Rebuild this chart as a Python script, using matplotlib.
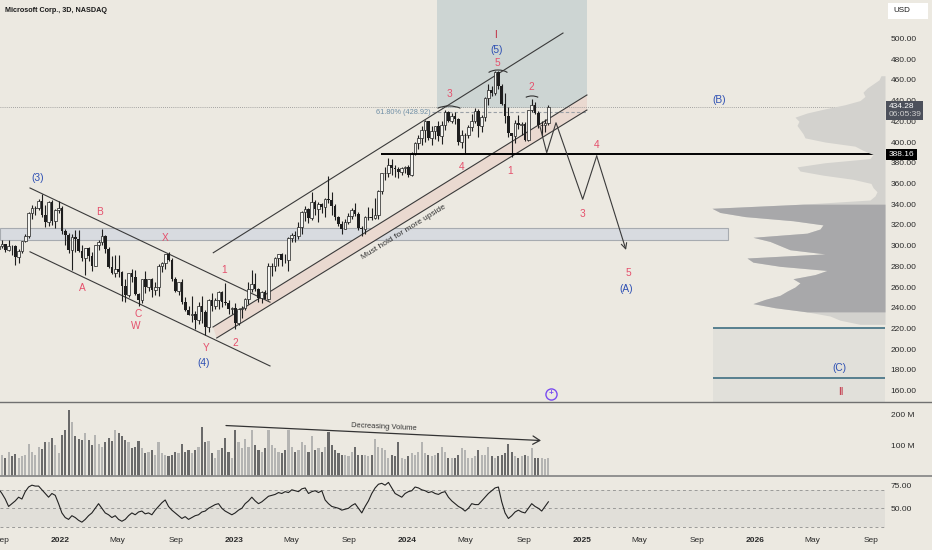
import numpy as np
import pandas as pd
import matplotlib
matplotlib.use("Agg")
import matplotlib.pyplot as plt
from matplotlib.patches import Rectangle, Arc, Polygon
from matplotlib.lines import Line2D

plt.rcParams["font.family"] = ["Liberation Sans", "DejaVu Sans"]

# ---- MSFT bars (one bar per week, Fridays from 2021-08-27) ----
first_open = 297.0
close = [
    299.7, 301.1, 295.7, 299.9, 299.4, 289.1, 294.9, 304.2, 309.2, 331.6, 336.1, 336.7, 343.1, 329.7, 323.0, 342.5, 323.8, 334.7, 336.3,
    314.0, 310.2, 296.0, 308.3, 305.9, 295.0, 287.9, 297.3, 289.9, 280.1, 300.4, 303.7, 309.4, 297.0, 279.8, 274.0, 277.5, 274.7, 261.1, 252.6,
    273.2, 270.0, 253.0, 247.7, 267.7, 259.6, 267.7, 256.7, 260.4, 280.7, 282.9, 291.9, 286.2, 268.1, 256.1, 264.5, 245.4, 237.9, 232.9, 234.2,
    228.6, 242.1, 235.9, 221.4, 247.1, 241.2, 247.6, 255.0, 245.4, 244.7, 238.7, 239.8,
    224.9, 239.2, 240.2, 248.2, 258.4, 263.1, 258.1, 249.2, 255.3, 248.6, 280.0, 280.6, 288.3, 291.6, 286.1, 285.8, 307.3, 310.7, 309.0, 318.3,
    332.9, 335.4, 326.8, 342.3, 335.0, 340.5, 337.2, 345.2, 343.8, 338.4, 327.8, 321.0, 316.5, 323.0, 328.7, 334.3, 330.2, 317.0, 315.8, 327.3,
    327.7, 326.7, 329.8, 352.8, 369.7, 369.9, 377.4, 374.5, 374.2, 370.7, 374.6, 376.0,
    367.8, 388.5, 398.7, 403.9, 411.2, 420.6, 404.1, 410.3, 415.5, 406.2, 416.4, 428.7, 420.7, 425.5, 421.9, 400.0, 406.3, 406.7, 414.7, 420.2,
    430.2, 415.1, 423.9, 442.6, 449.8, 447.0, 467.6, 453.6, 437.1, 425.3, 408.5, 406.0, 418.5, 416.8, 417.1, 401.7, 430.6, 435.3, 428.0, 416.1,
    416.3, 418.2, 434.28,
]
high = [
    302.0, 305.8, 301.4, 305.3, 300.2, 301.0, 296.6, 304.5, 311.0, 332.0, 338.8, 338.5, 345.1, 349.7, 339.3, 343.0, 344.3, 335.0, 343.0,
    338.0, 316.0, 312.0, 311.0, 315.1, 315.0, 301.0, 298.0, 299.0, 294.0, 301.0, 305.0, 315.8, 310.0, 299.0, 290.0, 290.9, 290.9, 275.0, 268.0,
    273.4, 277.7, 276.6, 254.5, 268.0, 275.0, 268.0, 269.0, 265.0, 282.0, 284.0, 292.0, 294.2, 288.0, 270.0, 265.0, 268.0, 250.0, 242.0, 251.0,
    237.0, 246.0, 251.0, 238.0, 248.0, 254.0, 249.0, 256.0, 256.0, 263.9, 247.0, 241.0,
    245.0, 239.9, 242.0, 249.0, 264.7, 276.8, 274.0, 259.0, 256.0, 257.0, 283.3, 283.0, 289.0, 292.1, 293.0, 291.6, 308.0, 312.0, 314.0, 322.6,
    333.4, 338.6, 336.0, 351.5, 344.0, 342.0, 341.5, 346.0, 366.8, 351.9, 340.0, 329.0, 324.0, 326.0, 331.0, 336.0, 340.9, 332.0, 319.0, 329.0,
    336.9, 336.0, 346.2, 354.0, 370.0, 376.3, 384.3, 384.0, 378.0, 376.0, 376.0, 377.2,
    377.5, 390.0, 400.0, 407.0, 415.3, 420.8, 420.7, 415.5, 415.9, 420.7, 420.0, 430.8, 430.0, 427.9, 429.4, 423.0, 412.0, 409.0, 416.0, 427.0,
    433.0, 432.0, 426.0, 443.4, 456.2, 454.0, 468.4, 469.0, 456.0, 447.0, 434.0, 409.0, 421.2, 426.0, 419.0, 419.0, 431.0, 441.9, 439.0, 430.0,
    420.0, 422.5, 436.0,
]
low = [
    293.0, 298.0, 294.0, 295.0, 291.0, 281.6, 283.0, 292.7, 303.0, 307.0, 326.0, 330.0, 334.0, 328.0, 318.0, 319.0, 320.0, 317.0, 331.0,
    311.5, 301.0, 293.0, 276.0, 294.0, 294.0, 285.0, 271.5, 285.0, 275.0, 280.0, 296.0, 301.0, 293.0, 278.0, 273.0, 270.0, 270.0, 246.4, 246.0,
    250.0, 265.0, 252.5, 241.5, 245.0, 254.0, 256.0, 250.0, 252.0, 251.0, 274.5, 277.0, 285.0, 266.0, 255.0, 252.7, 244.0, 237.0, 232.7, 226.0,
    219.1, 224.0, 225.0, 213.4, 217.0, 237.0, 239.0, 239.0, 241.0, 243.0, 233.9, 233.5,
    219.4, 223.0, 230.3, 238.0, 244.0, 255.0, 256.0, 245.6, 245.0, 248.0, 247.0, 271.0, 275.0, 280.0, 280.0, 283.0, 275.0, 303.0, 303.0, 306.0,
    311.0, 324.0, 322.0, 325.0, 330.0, 322.5, 331.0, 328.0, 341.0, 330.0, 325.0, 319.0, 311.6, 316.0, 321.0, 326.0, 329.0, 315.0, 309.5, 311.0,
    325.0, 325.0, 326.0, 326.0, 350.0, 363.0, 366.0, 368.0, 366.5, 365.0, 368.0, 370.0,
    366.5, 367.0, 387.0, 393.0, 397.0, 400.0, 402.0, 397.0, 403.0, 401.0, 398.0, 412.0, 419.0, 418.0, 417.0, 397.2, 394.0, 388.0, 404.0, 411.0,
    418.0, 404.5, 410.0, 420.0, 436.0, 444.0, 445.0, 451.0, 436.0, 418.0, 405.0, 385.6, 399.0, 413.0, 407.0, 400.8, 401.0, 429.0, 427.0, 414.0,
    406.0, 410.0, 416.0,
]
volume_m = [
    62, 70, 58, 80, 65, 72, 60, 66, 70, 105, 78, 70, 95, 88, 110, 112, 125, 100, 75,
    135, 150, 216, 178, 130, 120, 118, 140, 118, 100, 135, 105, 95, 110, 125, 115, 150, 140, 130, 118, 110,
    90, 95, 115, 90, 75, 80, 85, 70, 110, 75, 70, 65, 70, 80, 75, 105, 80, 85, 75, 85,
    95, 160, 110, 115, 75, 60, 85, 90, 125, 80, 60,
    150, 110, 90, 120, 95, 150, 100, 85, 80, 90, 150, 100, 90, 80, 75, 85, 150, 95, 80, 85,
    110, 100, 80, 130, 85, 90, 80, 95, 145, 100, 85, 75, 70, 70, 65, 80, 95, 70, 70, 70,
    65, 70, 120, 95, 90, 85, 60, 70, 65, 110, 60, 55,
    65, 75, 70, 80, 110, 75, 70, 65, 70, 75, 95, 80, 60, 60, 60, 70, 90, 85, 60, 60,
    65, 85, 70, 70, 95, 65, 60, 65, 70, 75, 105, 80, 65, 60, 65, 70, 65, 90, 60, 60,
    60, 55, 60,
]
rsi = [
    71, 66, 60, 52, 55, 58, 62, 60, 68, 73, 75, 74, 74, 70, 66, 62, 66, 64, 55, 45,
    40, 38, 42, 40, 37, 35, 38, 42, 45, 50, 55, 50, 45, 43, 40, 42, 38, 36, 38, 42,
    45, 43, 46, 47, 44, 45, 43, 48, 52, 56, 59, 52, 48, 45, 42, 39, 41, 38, 40, 42,
    43, 46, 47, 50, 52, 54, 55, 50, 47, 45, 43, 45, 48, 50, 55, 58, 62, 58, 55, 57,
    60, 63, 64, 65, 67, 66, 68, 67, 70, 69, 68, 71, 72, 66, 68, 69, 67, 69, 59, 55,
    52, 51, 50, 48, 49, 50, 53, 55, 50, 45, 52, 58, 66, 72, 76, 77, 75, 78, 72, 66,
    64, 62, 66, 68, 69, 73, 72, 70, 69, 67, 68, 66, 65, 67, 68, 62, 58, 55, 52, 50,
    47, 50, 55, 54, 54, 58, 62, 66, 69, 72, 73, 57, 45, 39, 42, 46, 48, 46, 45, 50,
    55, 52, 50, 47, 52, 57,
]

# visible range volume profile (px of width from the right edge)
profile_levels = np.arange(224, 468, 4)
profile_width = [
    25, 45, 55, 78, 110, 132, 120, 105, 98, 90,
    85, 92, 70, 58, 105, 132, 138, 60, 95, 105,
    115, 132, 78, 65, 62, 92, 140, 165, 173, 82,
    15, 10, 8, 12, 14, 32, 62, 85, 88, 60,
    15, 12, 22, 30, 60, 80, 82, 85, 88, 86,
    90, 78, 60, 40, 25, 20, 22, 18, 12, 6,
    4,
]

tick_dates = ["2021-09-01", "2022-01-01", "2022-05-01", "2022-09-01", "2023-01-01", "2023-05-01",
              "2023-09-01", "2024-01-01", "2024-05-01", "2024-09-01", "2025-01-01", "2025-05-01",
              "2025-09-01", "2026-01-01", "2026-05-01", "2026-09-01"]
tick_labels = ["Sep", "2022", "May", "Sep", "2023", "May", "Sep", "2024", "May", "Sep",
               "2025", "May", "Sep", "2026", "May", "Sep"]
price_ticks = list(range(160, 520, 20))

# Elliott wave labels: (text, day since 2022-01-01, price, colour)
PINK, BLUE, RED = "#e5506c", "#2d4fb3", "#c0283c"
wave_labels = [
    ("(3)", -46, 365.3, BLUE), ("B", 84, 332.4, PINK), ("X", 220.6, 307.3, PINK),
    ("A", 46, 259.1, PINK), ("C", 164, 234.0, PINK), ("W", 160, 222.4, PINK),
    ("1", 344.5, 276.4, PINK), ("Y", 306.7, 201.2, PINK), ("(4)", 302.5, 186.7, BLUE),
    ("2", 367.6, 206.0, PINK), ("3", 817.2, 446.3, PINK), ("4", 844.5, 375.9, PINK),
    ("5", 918, 476.3, PINK), ("(5)", 918, 488.5, BLUE), ("I", 914, 503.3, RED),
    ("1", 945.4, 372.0, PINK), ("2", 989.5, 453.1, PINK), ("4", 1128.2, 397.1, PINK),
    ("3", 1096.6, 330.5, PINK), ("5", 1193.3, 273.6, PINK), ("(A)", 1189, 258.1, BLUE),
    ("(B)", 1384.5, 440.5, BLUE), ("(C)", 1636.6, 181.9, BLUE), ("II", 1640.8, 158.7, RED),
]

W, H = 932, 550
BG = "#ece9e1"
INK = "#333333"
T0 = pd.Timestamp("2022-01-01")
PX_DAY = 0.476
XMIN, XMAX = -60 / PX_DAY, 825 / PX_DAY
TICK = dict(length=0, pad=4, labelsize=6.0, labelcolor="#2a2a2a")

fig = plt.figure(figsize=(W / 100, H / 100), dpi=100, facecolor=BG)
ax = fig.add_axes([0, 1 - 402 / H, 885 / W, 402 / H], facecolor=BG)
ax_v = fig.add_axes([0, 1 - 476 / H, 885 / W, 74 / H], facecolor=BG, sharex=ax)
ax_r = fig.add_axes([0, 1 - 533 / H, 885 / W, 57 / H], facecolor=BG, sharex=ax)

dates = pd.date_range("2021-08-27", periods=len(close), freq="7D")
x = (dates - T0).days.values - 2.0
c = np.array(close)
o = np.r_[first_open, c[:-1]]
hi = np.maximum(np.array(high), np.maximum(o, c))
lo = np.minimum(np.array(low), np.minimum(o, c))
up = c >= o

# ---- main pane ----
ax.set_xlim(XMIN, XMAX)
ax.set_ylim(149.0, 537.1)

ax.add_patch(Rectangle((792, 432.8), 315, 110, fc="#cdd5d3", ec="none", zorder=0))
ax.add_patch(Rectangle((1371.8, 140), XMAX - 1371.8, 80, fc="#e1e0da", ec="none", zorder=0))
ax.add_patch(Rectangle((XMIN, 305.4), 1402.7 - XMIN, 11.6, fc="#d8dbe0", ec="#a7abb0", lw=0.8, zorder=1))
ax.add_patch(Polygon([(321.4, 221.4), (1107, 445.4), (1107, 430.9), (329.2, 210.8)],
                     fc="#ead9d0", ec="none", zorder=1))

chan = dict(color="#3a3a3a", lw=0.8, zorder=3)
ax.plot([-63, 441.2], [355.6, 245.4], **chan)
ax.plot([-63, 441.2], [294.0, 183.8], **chan)
ax.plot([322, 1056.7], [293.1, 505.2], **chan)
ax.plot([321.4, 1107], [221.4, 445.4], **chan)
ax.plot([329.2, 1107], [210.8, 430.9], **chan)

ax.axhline(434.28, color="#8d8d8d", lw=0.6, ls=(0, (1, 1.5)), zorder=2)
ax.hlines(388.16, 674, XMAX, color="black", lw=1.4, zorder=6)
ax.hlines(428.92, 781.5, 1107, color="#9aa0a6", lw=0.8, ls=(0, (3, 2)), zorder=2)
ax.text(779, 428.92, "61.80% (428.92)", ha="right", va="center", color="#6f8ea5", fontsize=5.3)
ax.hlines([220, 172.2], 1371.8, XMAX, color="#3f6f82", lw=1.2, zorder=3)

ax.vlines(x, lo, hi, color="#1e1e1e", lw=0.8, zorder=4)
ax.bar(x[up], (c - o)[up], bottom=o[up], width=5.6, fc="#f4f4f0", ec="#1e1e1e", lw=0.5, zorder=5)
ax.bar(x[~up], (c - o)[~up], bottom=o[~up], width=5.6, color="#1e1e1e", zorder=5)

for cx, cy, w, h in [(817.2, 426.1, 71.4, 17.4), (920.2, 461.8, 54.6, 15.4), (991.6, 439.6, 37.8, 9.7)]:
    ax.add_patch(Arc((cx, cy), w, h, theta1=15, theta2=165, color=INK, lw=0.8, zorder=6))

zz_d = [1008.4, 1022.5, 1042, 1098.1, 1127.5]
zz_p = [414.8, 389.7, 418.6, 344.7, 386.5]
ax.plot(zz_d, zz_p, color="#3a3a3a", lw=0.8, zorder=6)
ax.annotate("", xy=(1189.1, 295.8), xytext=(1127.5, 386.5),
            arrowprops=dict(arrowstyle="->", color="#3a3a3a", lw=0.8, shrinkA=0, shrinkB=0))

ax.text(722.7, 313.1, "Must hold for more upside", rotation=31.8, rotation_mode="anchor",
        ha="center", va="center", fontsize=6, color=INK)

for s, d, p, col in wave_labels:
    ax.text(d, p, s, color=col, fontsize=7.3, ha="center", va="center", zorder=7)

# volume profile, growing leftwards from the price scale
ax_p = ax.twiny()
ax_p.set_xlim(885, 0)
ax_p.fill_betweenx(profile_levels, 0, profile_width, color="#d3d2ce", lw=0)
value_area = (profile_levels >= 236) & (profile_levels <= 340)
ax_p.fill_betweenx(profile_levels[value_area], 0, np.array(profile_width)[value_area],
                   color="#a8a8aa", lw=0)
ax_p.axis("off")

ax.set_yticks(price_ticks)
ax.set_yticklabels([f"{t:.2f}" for t in price_ticks])
ax.yaxis.tick_right()
ax.tick_params(axis="y", **TICK)
ax.tick_params(axis="x", bottom=False, labelbottom=False)

# ---- volume pane ----
ax_v.bar(x, volume_m, width=4.4, color=np.where(up, "#b4b4b2", "#6a6a6a"), lw=0)
ax_v.set_ylim(0, 242)
ax_v.annotate("", xy=(1010.5, 116), xytext=(348.7, 165),
              arrowprops=dict(arrowstyle="->,head_length=0.5,head_width=0.3", lw=0.9, color=INK,
                              shrinkA=0, shrinkB=0))
ax_v.text(680.7, 158.7, "Decreasing Volume", rotation=-2.7, ha="center", va="center",
          fontsize=5.4, color=INK)
ax_v.set_yticks([100, 200])
ax_v.set_yticklabels(["100 M", "200 M"])
ax_v.yaxis.tick_right()
ax_v.tick_params(axis="y", **TICK)
ax_v.tick_params(axis="x", bottom=False, labelbottom=False)

# ---- RSI pane ----
ax_r.set_ylim(23.3, 84.9)
ax_r.axhspan(30, 70, color="#e1dfd9", lw=0, zorder=0)
for lvl in (70, 50, 30):
    ax_r.axhline(lvl, color="#9a9a98", lw=0.7, ls=(0, (3, 3)), zorder=1)
ax_r.plot(x, rsi, color="#222222", lw=0.8, zorder=3)
ax_r.set_yticks([75, 50])
ax_r.set_yticklabels(["75.00", "50.00"])
ax_r.yaxis.tick_right()
ax_r.tick_params(axis="y", **TICK)

ax_r.set_xticks((pd.to_datetime(tick_dates) - T0).days.values)
ax_r.set_xticklabels(tick_labels)
ax_r.tick_params(axis="x", length=0, pad=3, labelsize=6.0, labelcolor="#2a2a2a")
for lab in ax_r.get_xticklabels():
    if lab.get_text().isdigit():
        lab.set_fontweight("bold")
ax_r.set_xlim(XMIN, XMAX)

for a in (ax, ax_v, ax_r):
    for sp in a.spines.values():
        sp.set_visible(False)

# pane separators
fig.add_artist(Line2D([0, 1], [1 - 402 / H] * 2, color="#707070", lw=1.0))
fig.add_artist(Line2D([0, 1], [1 - 476 / H] * 2, color="#8a8a8a", lw=1.3))

# header, currency and price badges
fig.text(5 / W, 1 - 10 / H, "Microsoft Corp., 3D, NASDAQ", fontsize=5.2, fontweight="bold",
         va="center", color="#1a1a1a")
fig.add_artist(Rectangle((888 / W, 1 - 19 / H), 40 / W, 16 / H, fc="white", ec="none",
                         transform=fig.transFigure))
fig.text(893 / W, 1 - 11 / H, "USD", fontsize=5.8, va="center", color="#1a1a1a")
fig.add_artist(Rectangle((886 / W, 1 - 119.5 / H), 37 / W, 18.5 / H, fc="#4c505b", ec="none",
                         transform=fig.transFigure))
fig.text(889 / W, 1 - 106 / H, "434.28", fontsize=6.0, va="center", color="white")
fig.text(889 / W, 1 - 115 / H, "06:05:39", fontsize=6.0, va="center", color="#cfcfcf")
fig.add_artist(Rectangle((886 / W, 1 - 159.5 / H), 31 / W, 11 / H, fc="black", ec="none",
                         transform=fig.transFigure))
fig.text(889 / W, 1 - 154 / H, "388.16", fontsize=6.0, va="center", color="white")

fig.add_artist(Line2D([551 / W], [1 - 394 / H], marker="o", ms=8, mfc="none", mec="#7a4cf0", mew=1.0))
fig.text(551 / W, 1 - 394 / H, "+", fontsize=6, fontweight="bold", color="#7a4cf0",
         ha="center", va="center")

fig.savefig("out.png", dpi=100, facecolor=BG)
